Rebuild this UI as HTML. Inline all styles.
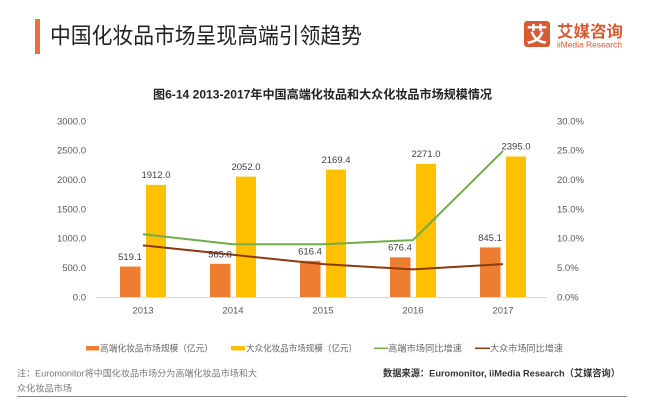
<!DOCTYPE html>
<html>
<head>
<meta charset="utf-8">
<style>
  html,body{margin:0;padding:0;background:#fff;}
  svg{display:block;}
  text{font-family:"Liberation Sans","Noto Sans CJK SC",sans-serif;}
</style>
</head>
<body>
<svg width="645" height="406" viewBox="0 0 645 406" xmlns="http://www.w3.org/2000/svg">
  <rect x="0" y="0" width="645" height="406" fill="#ffffff"/>

  <!-- Header -->
  <rect x="35" y="19" width="5" height="35" fill="#E8703F"/>
  <text x="50" y="43.5" font-size="22" fill="#222" textLength="312" lengthAdjust="spacingAndGlyphs">中国化妆品市场呈现高端引领趋势</text>

  <!-- Logo -->
  <rect x="524" y="21" width="26" height="26" rx="3" fill="#D65A32"/>
  <text x="537" y="42" font-size="21" font-weight="bold" fill="#fff" text-anchor="middle">艾</text>
  <text x="557" y="37" font-size="16" font-weight="bold" fill="#D65A32" textLength="66" lengthAdjust="spacingAndGlyphs">艾媒咨询</text>
  <text x="557" y="47.5" font-size="8.5" fill="#D65A32" textLength="65" lengthAdjust="spacingAndGlyphs">iiMedia Research</text>

  <!-- Chart title -->
  <text x="153" y="98.5" font-size="12" font-weight="bold" fill="#222" textLength="339" lengthAdjust="spacingAndGlyphs">图6-14 2013-2017年中国高端化妆品和大众化妆品市场规模情况</text>

  <!-- Left axis labels -->
  <g font-size="9.5" fill="#595959" text-anchor="end">
    <text x="86" y="124.3">3000.0</text>
    <text x="86" y="153.6">2500.0</text>
    <text x="86" y="183">2000.0</text>
    <text x="86" y="212.3">1500.0</text>
    <text x="86" y="241.6">1000.0</text>
    <text x="86" y="271">500.0</text>
    <text x="86" y="300.3">0.0</text>
  </g>
  <!-- Right axis labels -->
  <g font-size="9.5" fill="#595959" text-anchor="start">
    <text x="557" y="124.3">30.0%</text>
    <text x="557" y="153.6">25.0%</text>
    <text x="557" y="183">20.0%</text>
    <text x="557" y="212.3">15.0%</text>
    <text x="557" y="241.6">10.0%</text>
    <text x="557" y="271">5.0%</text>
    <text x="557" y="300.3">0.0%</text>
  </g>

  <!-- Axis line -->
  <line x1="97" y1="297.5" x2="547" y2="297.5" stroke="#D9D9D9" stroke-width="1"/>

  <!-- Bars: orange (high-end) -->
  <g fill="#ED7D31">
    <rect x="120" y="266.55" width="20.5" height="30.45"/>
    <rect x="210" y="263.81" width="20.5" height="33.19"/>
    <rect x="300" y="260.84" width="20.5" height="36.16"/>
    <rect x="390" y="257.32" width="20.5" height="39.68"/>
    <rect x="480" y="247.42" width="20.5" height="49.58"/>
  </g>
  <!-- Bars: yellow (mass) -->
  <g fill="#FFC000">
    <rect x="146" y="184.83" width="20" height="112.17"/>
    <rect x="236" y="176.62" width="20" height="120.38"/>
    <rect x="326" y="169.73" width="20" height="127.27"/>
    <rect x="416" y="163.77" width="20" height="133.23"/>
    <rect x="506" y="156.49" width="20" height="140.51"/>
  </g>

  <!-- Lines -->
  <polyline points="143,234.2 233,244.2 323,244.2 413,240.1 503,150.9" fill="none" stroke="#70AD47" stroke-width="2" stroke-linejoin="round"/>
  <polyline points="143,245.4 233,254.8 323,264.1 413,269.4 503,264.1" fill="none" stroke="#8B3A10" stroke-width="2" stroke-linejoin="round"/>

  <!-- Data labels -->
  <g font-size="9.5" fill="#404040" text-anchor="middle">
    <text x="130" y="260">519.1</text>
    <text x="220" y="257.5">565.8</text>
    <text x="310" y="254.5">616.4</text>
    <text x="400" y="250.5">676.4</text>
    <text x="490" y="241">845.1</text>
    <text x="156" y="178">1912.0</text>
    <text x="246" y="170">2052.0</text>
    <text x="336" y="163">2169.4</text>
    <text x="426" y="157">2271.0</text>
    <text x="516" y="149.5">2395.0</text>
  </g>

  <!-- X labels -->
  <g font-size="9.5" fill="#595959" text-anchor="middle">
    <text x="143" y="313.5">2013</text>
    <text x="233" y="313.5">2014</text>
    <text x="323" y="313.5">2015</text>
    <text x="413" y="313.5">2016</text>
    <text x="503" y="313.5">2017</text>
  </g>

  <!-- Legend -->
  <rect x="86" y="346" width="13" height="4.5" fill="#ED7D31"/>
  <text x="100" y="351.5" font-size="9" fill="#666" textLength="113" lengthAdjust="spacingAndGlyphs">高端化妆品市场规模（亿元）</text>
  <rect x="231" y="346" width="14" height="4.5" fill="#FFC000"/>
  <text x="246" y="351.5" font-size="9" fill="#666" textLength="111" lengthAdjust="spacingAndGlyphs">大众化妆品市场规模（亿元）</text>
  <line x1="374" y1="348.3" x2="388" y2="348.3" stroke="#70AD47" stroke-width="1.5"/>
  <text x="388" y="351.5" font-size="9" fill="#666" textLength="74" lengthAdjust="spacingAndGlyphs">高端市场同比增速</text>
  <line x1="475" y1="348.3" x2="490" y2="348.3" stroke="#8B3A10" stroke-width="1.5"/>
  <text x="490" y="351.5" font-size="9" fill="#666" textLength="73" lengthAdjust="spacingAndGlyphs">大众市场同比增速</text>

  <!-- Notes -->
  <text x="17" y="376.5" font-size="9" fill="#777" textLength="240" lengthAdjust="spacingAndGlyphs">注：Euromonitor将中国化妆品市场分为高端化妆品市场和大</text>
  <text x="17" y="391.5" font-size="9" fill="#777" textLength="55" lengthAdjust="spacingAndGlyphs">众化妆品市场</text>
  <text x="383" y="376.5" font-size="9.5" font-weight="bold" fill="#333" textLength="237" lengthAdjust="spacingAndGlyphs">数据来源：Euromonitor, iiMedia Research（艾媒咨询）</text>

  <!-- Bottom rule -->
  <line x1="17" y1="396.5" x2="627" y2="396.5" stroke="#888" stroke-width="1"/>
</svg>
</body>
</html>
